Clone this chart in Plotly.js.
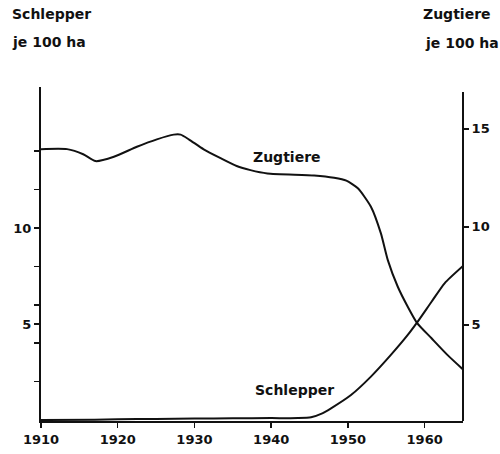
<!DOCTYPE html>
<html>
<head>
<meta charset="utf-8">
<script src="https://cdn.plot.ly/plotly-3.0.1.min.js"></script>
<style>html,body{margin:0;padding:0;background:#fff;}#chart{width:500px;height:454px;}</style>
</head>
<body>
<div id="chart"></div>
<script>
// Schlepper je 100 ha (left axis)
const schlepperYears = [1910, 1917, 1920, 1925, 1930, 1935, 1940, 1943.5, 1945.2, 1946.5, 1947.8, 1950.4, 1953.0, 1955.6, 1957.8, 1959.0, 1960.9, 1962.6, 1965];
const schlepperValues = [0, 0.02, 0.04, 0.06, 0.08, 0.09, 0.1, 0.1, 0.14, 0.32, 0.61, 1.30, 2.26, 3.39, 4.43, 5.07, 6.16, 7.12, 8.02];

// Zugtiere je 100 ha (right axis)
const zugtiereYears = [1910, 1913.4, 1915.5, 1917.1, 1919.5, 1922.5, 1925.1, 1927.3, 1928.2, 1929.3, 1931.2, 1933.4, 1935.5, 1937.3, 1939.5, 1945.6, 1948.2, 1949.8, 1951.3, 1953.0, 1954.3, 1955.2, 1956.5, 1957.8, 1959.0, 1960.9, 1963.0, 1965];
const zugtiereValues = [13.96, 13.96, 13.7, 13.35, 13.57, 14.08, 14.46, 14.7, 14.7, 14.45, 13.95, 13.5, 13.1, 12.89, 12.72, 12.62, 12.5, 12.35, 11.96, 11.02, 9.66, 8.30, 6.94, 5.92, 5.10, 4.31, 3.45, 2.72];

const xTicks = [1910, 1920, 1930, 1940, 1950, 1960];
const leftTickVals = [2, 4, 5, 6, 8, 10, 12, 14];
const leftTickText = ['', '', '5', '', '', '10', '', ''];
const rightTickVals = [5, 10, 15];

const FONT = 'DejaVu Sans';

const traces = [
  {x: zugtiereYears, y: zugtiereValues, yaxis: 'y2', type: 'scatter', mode: 'lines',
   line: {color: '#111', width: 2, shape: 'spline', smoothing: 0.6}, hoverinfo: 'skip'},
  {x: schlepperYears, y: schlepperValues, yaxis: 'y', type: 'scatter', mode: 'lines',
   line: {color: '#111', width: 2, shape: 'spline', smoothing: 0.6}, hoverinfo: 'skip'}
];

const layout = {
  width: 500, height: 454,
  margin: {l: 41, r: 37, t: 87, b: 33},
  paper_bgcolor: '#fff', plot_bgcolor: '#fff',
  showlegend: false,
  font: {family: FONT, color: '#111', size: 13, weight: 'bold'},
  xaxis: {
    range: [1910, 1965], tickvals: xTicks, ticktext: xTicks.map(String),
    showgrid: false, zeroline: false, showline: true, linecolor: '#111', linewidth: 2,
    ticks: 'outside', ticklen: 5, tickwidth: 1.5, tickcolor: '#111',
    tickfont: {family: FONT, size: 13, weight: 'bold', color: '#111'}
  },
  yaxis: {
    range: [-0.05, 17.34], tickvals: leftTickVals, ticktext: leftTickText,
    showgrid: false, zeroline: false, showline: true, linecolor: '#111', linewidth: 2,
    ticks: 'outside', ticklen: 5, tickwidth: 1.5, tickcolor: '#111',
    tickfont: {family: FONT, size: 13, weight: 'bold', color: '#111'}
  },
  yaxis2: {
    range: [0.09, 17.13], overlaying: 'y', side: 'right', tickvals: rightTickVals,
    ticktext: rightTickVals.map(String),
    showgrid: false, zeroline: false, showline: false,
    ticks: 'outside', ticklen: 5, tickwidth: 1.5, tickcolor: '#111',
    tickfont: {family: FONT, size: 13, weight: 'bold', color: '#111'}
  },
  shapes: [
    {type: 'line', xref: 'paper', yref: 'paper', x0: 1, x1: 1, y0: 0, y1: 0.985,
     line: {color: '#111', width: 2}}
  ],
  annotations: [
    {text: 'Schlepper', xref: 'paper', yref: 'paper', x: -0.0735, y: 1.2186, xanchor: 'left', yanchor: 'middle', showarrow: false, font: {family: FONT, size: 14, weight: 'bold'}},
    {text: 'je 100 ha', xref: 'paper', yref: 'paper', x: -0.0735, y: 1.135, xanchor: 'left', yanchor: 'middle', showarrow: false, font: {family: FONT, size: 14, weight: 'bold'}},
    {text: 'Zugtiere', xref: 'paper', yref: 'paper', x: 1.072, y: 1.2186, xanchor: 'right', yanchor: 'middle', showarrow: false, font: {family: FONT, size: 14, weight: 'bold'}},
    {text: 'je 100 ha', xref: 'paper', yref: 'paper', x: 1.09, y: 1.132, xanchor: 'right', yanchor: 'middle', showarrow: false, font: {family: FONT, size: 14, weight: 'bold'}},
    {text: 'Zugtiere', xref: 'x', yref: 'y2', x: 1942.0, y: 13.56, xanchor: 'center', yanchor: 'middle', showarrow: false, font: {family: FONT, size: 14, weight: 'bold'}},
    {text: 'Schlepper', xref: 'x', yref: 'y', x: 1943.0, y: 1.56, xanchor: 'center', yanchor: 'middle', showarrow: false, font: {family: FONT, size: 14, weight: 'bold'}}
  ]
};

Plotly.newPlot('chart', traces, layout, {staticPlot: true, displayModeBar: false});
</script>
</body>
</html>
